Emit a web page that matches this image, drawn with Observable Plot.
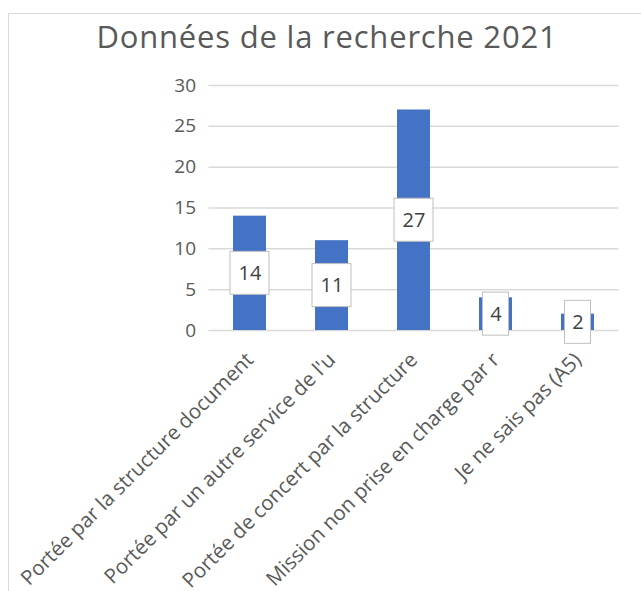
<!DOCTYPE html>
<html><head><meta charset="utf-8">
<script src="https://cdn.jsdelivr.net/npm/d3@7"></script>
<script src="https://cdn.jsdelivr.net/npm/@observablehq/plot@0.6"></script>
<style>
body{margin:0;background:#fff;overflow:hidden;}
#frame{position:absolute;left:8px;top:13px;width:640px;height:600px;border-top:1px solid #d9d9d9;border-left:1px solid #d9d9d9;}
#title{position:absolute;left:0;width:654px;top:16px;text-align:center;font-family:"Open Sans";font-size:31px;letter-spacing:0.8px;line-height:40px;color:#595959;}
#chart{position:absolute;left:0;top:0;}
</style></head><body>
<div id="frame"></div>
<div id="title">Données de la recherche 2021</div>
<div id="chart"></div>
<script>
const categories = [
  "Portée par la structure document",
  "Portée par un autre service de l'u",
  "Portée de concert par la structure",
  "Mission non prise en charge par r",
  "Je ne sais pas (A5)"
];
const values = [14, 11, 27, 4, 2];
const yTicks = [0, 5, 10, 15, 20, 25, 30];

const data = categories.map((c, i) => ({category: c, value: values[i], mid: values[i] / 2, label: String(values[i])}));

const plot = Plot.plot({
  width: 641, height: 591,
  marginLeft: 208.5, marginRight: 22.5, marginTop: 85, marginBottom: 261,
  style: {fontFamily: '"Open Sans"', color: "#595959", background: "transparent", overflow: "visible"},
  x: {domain: categories, paddingInner: 0.6, paddingOuter: 0.3, label: null},
  y: {domain: [0, 30], label: null},
  marks: [
    Plot.ruleY(yTicks, {stroke: "#d9d9d9", strokeWidth: 1.5}),
    Plot.barY(data, {x: "category", y: "value", fill: "#4472c4"}),
    Plot.barY(data.filter(d => d.label.length > 1), {x: "category", y1: "mid", y2: "mid", fill: "white", stroke: "#bfbfbf", insetLeft: -3, insetRight: -3, insetTop: -21.5, insetBottom: -21.5}),
    Plot.barY(data.filter(d => d.label.length === 1), {x: "category", y1: "mid", y2: "mid", fill: "white", stroke: "#bfbfbf", insetLeft: 3.5, insetRight: 3.5, insetTop: -21.5, insetBottom: -21.5}),
    Plot.text(data, {x: "category", y: "mid", text: "label", fontSize: 20, fill: "#404040"}),
    Plot.axisY({ticks: yTicks, tickSize: 0, tickPadding: 13, fontSize: 19, label: null, fill: "#595959"}),
    Plot.axisX({tickSize: 0, tickRotate: -45, tickPadding: 10, dx: 0, dy: 16, fontSize: 20.5, label: null, fill: "#595959"})
  ]
});
document.getElementById("chart").appendChild(plot);
</script>
</body></html>
